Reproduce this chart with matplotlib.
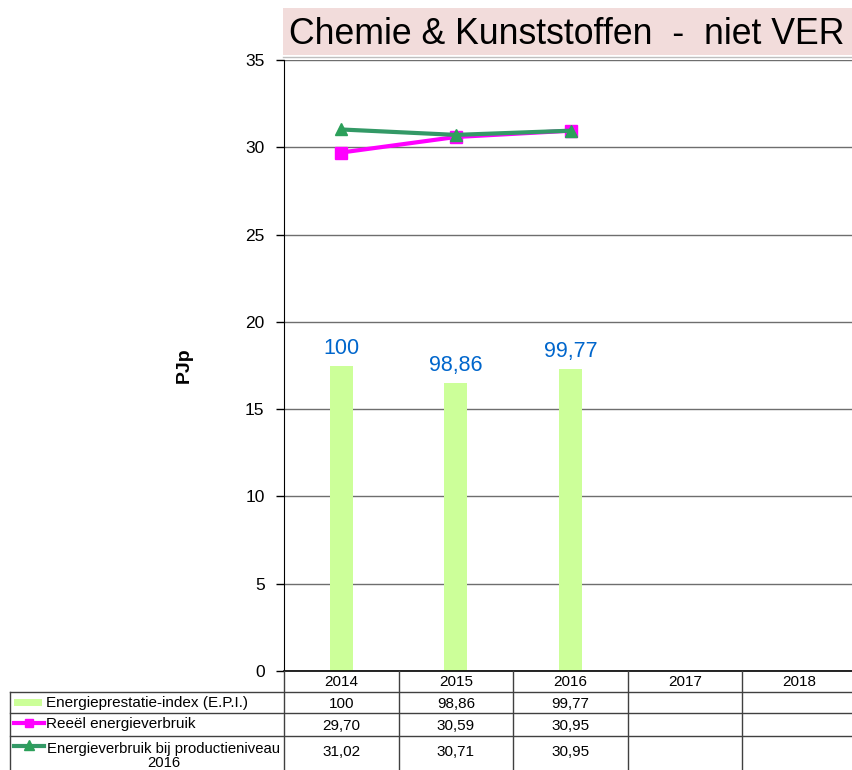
import matplotlib
matplotlib.use("Agg")
import matplotlib.pyplot as plt
from matplotlib.patches import Rectangle
from matplotlib.lines import Line2D

plt.rcParams['font.family'] = ['Liberation Sans', 'DejaVu Sans']

years = ['2014', '2015', '2016', '2017', '2018']
epi = [100, 98.86, 99.77]
reeel = [29.70, 30.59, 30.95]
prod2016 = [31.02, 30.71, 30.95]
epi_labels = ['100', '98,86', '99,77']
reeel_labels = ['29,70', '30,59', '30,95']
prod_labels = ['31,02', '30,71', '30,95']
series_names = ['Energieprestatie-index (E.P.I.)', 'Reeël energieverbruik',
                'Energieverbruik bij productieniveau\n2016']
title = 'Chemie & Kunststoffen  -  niet VER'

W, H = 853, 770
fig = plt.figure(figsize=(W / 100, H / 100), dpi=100)

L, R, T, B = 284, 857, 60, 671
ax = fig.add_axes([L / W, 1 - B / H, (R - L) / W, (B - T) / H])
ax2 = ax.twinx()

x = list(range(len(years)))
ax.set_xlim(-0.5, len(years) - 0.5)
ax.set_ylim(0, 35)
ax.set_yticks(range(0, 36, 5))
ax.yaxis.grid(True, color='#6e6e6e', linewidth=1)
ax.set_axisbelow(True)
ax.set_xticks([])
for s in ['top', 'right', 'bottom']:
    ax.spines[s].set_visible(False)
ax.spines['left'].set_color('black')
ax.tick_params(axis='y', labelsize=12.5, length=6, width=1, color='black', pad=8)
ax.set_ylabel('PJp', fontsize=14, fontweight='bold', labelpad=38)

# bars on hidden secondary axis
ax2.set_ylim(80, 120)
ax2.axis('off')
ax2.bar(x[:len(epi)], epi, width=0.2, color='#ccff99', zorder=2)
for xi, v, lab in zip(x, epi, epi_labels):
    ax2.text(xi, v + 0.45, lab, ha='center', va='bottom', color='#0066cc', fontsize=15.5)

ax3 = ax.twinx()
ax3.set_ylim(0, 35)
ax3.axis('off')
ax3.plot(x[:len(reeel)], reeel, color='#ff00ff', linewidth=3, marker='s',
         markersize=8, zorder=4)
ax3.plot(x[:len(prod2016)], prod2016, color='#339966', linewidth=3, marker='^',
         markersize=9, markerfacecolor='#2ca05a', markeredgecolor='#2ca05a', zorder=5)

# overlay in pixel coords for title and table
ov = fig.add_axes([0, 0, 1, 1], zorder=10)
ov.set_xlim(0, W)
ov.set_ylim(H, 0)
ov.axis('off')
ov.patch.set_alpha(0)

ov.add_patch(Rectangle((283, 8), 580, 47, facecolor='#f2dcdb', edgecolor='none'))
ov.text(289, 34, title, fontsize=25.7, va='center', ha='left', color='black')
ov.plot([283, 853], [57, 57], color='#bfbfbf', linewidth=1)

# table
colw = (R - L) / len(years)
rows = [671, 692, 713, 736, 775]
lc = '#404040'
ov.plot([L, R], [rows[0], rows[0]], color='black', linewidth=1.2)
for yy in rows[1:4]:
    ov.plot([10, R], [yy, yy], color=lc, linewidth=1)
ov.plot([10, 10], [rows[1], H], color=lc, linewidth=1)
for i in range(len(years) + 1):
    xx = L + i * colw
    ov.plot([xx, xx], [rows[0], H], color=lc, linewidth=1)

fs = 11
for i, yr in enumerate(years):
    cx = L + (i + 0.5) * colw
    ov.text(cx, (rows[0] + rows[1]) / 2 + 1, yr, ha='center', va='center', fontsize=fs)
for vals, r in [(epi_labels, 1), (reeel_labels, 2), (prod_labels, 3)]:
    yc = (rows[r] + rows[r + 1]) / 2 + 1 if r < 3 else 752
    for i, v in enumerate(vals):
        cx = L + (i + 0.5) * colw
        ov.text(cx, yc, v, ha='center', va='center', fontsize=fs)

# legend keys and labels
ov.add_patch(Rectangle((14, 699), 28, 7, facecolor='#ccff99', edgecolor='none'))
ov.text(46, 703, series_names[0], ha='left', va='center', fontsize=fs)
ov.add_line(Line2D([14, 44], [723, 723], color='#ff00ff', linewidth=3))
ov.plot([29], [723], marker='s', color='#ff00ff', markersize=6)
ov.text(46, 724, series_names[1], ha='left', va='center', fontsize=fs)
ov.add_line(Line2D([14, 44], [746, 746], color='#339966', linewidth=3))
ov.plot([29], [745], marker='^', color='#2ca05a', markersize=7)
ov.text(164, 756, series_names[2], ha='center', va='center', fontsize=10.7,
        multialignment='center', linespacing=1.05)

fig.savefig('out.png', dpi=100)
